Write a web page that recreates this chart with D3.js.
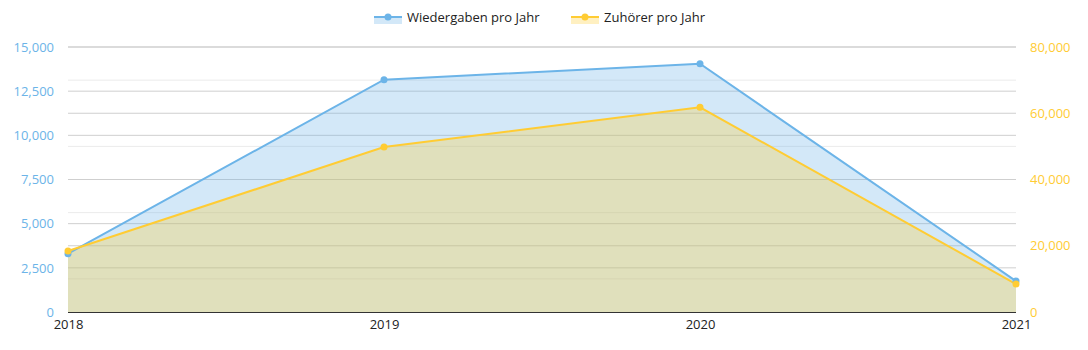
<!DOCTYPE html>
<html><head><meta charset="utf-8">
<script src="https://cdn.jsdelivr.net/npm/d3@7"></script>
<style>body{margin:0;background:#fff;font-family:"Open Sans","DejaVu Sans",sans-serif;}</style>
</head><body><svg id="c" width="1088" height="350"></svg>
<script>
const years = ["2018","2019","2020","2021"];
const plays = [3300, 13150, 14050, 1750];
const listeners = [18400, 49800, 61800, 8450];
const leftTicks = [0,2500,5000,7500,10000,12500,15000];
const rightTicks = [0,20000,40000,60000,80000];
const rightMinor = [10000,30000,50000,70000];
const seriesNames = ["Wiedergaben pro Jahr","Zuhörer pro Jahr"];

const blue="#6cb4e8", yellow="#ffcc33";
const svg=d3.select("#c");
const L=68,R=1016,T=47,B=312;
const x=d3.scalePoint().domain(years).range([L,R]);
const yL=d3.scaleLinear().domain([0,15000]).range([B,T]);
const yR=d3.scaleLinear().domain([0,80000]).range([B,T]);
const fmt=d3.format(",");

// grid
svg.append("g").selectAll("line").data(rightMinor).join("line")
 .attr("x1",L).attr("x2",R).attr("y1",d=>yR(d)).attr("y2",d=>yR(d)).attr("stroke","#ebebeb");
svg.append("g").selectAll("line").data(rightTicks.filter(d=>d>0)).join("line")
 .attr("x1",L).attr("x2",R).attr("y1",d=>yR(d)).attr("y2",d=>yR(d)).attr("stroke","#cfcfcf");
svg.append("g").selectAll("line").data(leftTicks.filter(d=>d>0)).join("line")
 .attr("x1",L).attr("x2",R).attr("y1",d=>yL(d)).attr("y2",d=>yL(d)).attr("stroke","#cfcfcf");

// areas
const aBlue=d3.area().x((d,i)=>x(years[i])).y0(B).y1(d=>yL(d));
const aYel=d3.area().x((d,i)=>x(years[i])).y0(B).y1(d=>yR(d));
svg.append("path").attr("d",aBlue(plays)).attr("fill",blue).attr("fill-opacity",0.3);
svg.append("path").attr("d",aYel(listeners)).attr("fill",yellow).attr("fill-opacity",0.3);
const lBlue=d3.line().x((d,i)=>x(years[i])).y(d=>yL(d));
const lYel=d3.line().x((d,i)=>x(years[i])).y(d=>yR(d));
svg.append("path").attr("d",lBlue(plays)).attr("fill","none").attr("stroke",blue).attr("stroke-width",2);
svg.append("path").attr("d",lYel(listeners)).attr("fill","none").attr("stroke",yellow).attr("stroke-width",2);
svg.append("g").selectAll("circle").data(plays).join("circle")
 .attr("cx",(d,i)=>x(years[i])).attr("cy",d=>yL(d)).attr("r",3.5).attr("fill",blue);
svg.append("g").selectAll("circle").data(listeners).join("circle")
 .attr("cx",(d,i)=>x(years[i])).attr("cy",d=>yR(d)).attr("r",3.5).attr("fill",yellow);

// baseline
svg.append("line").attr("x1",L).attr("x2",R).attr("y1",B+0.5).attr("y2",B+0.5).attr("stroke","#333");

// axes
const axL=svg.append("g").attr("transform",`translate(${L-11},0)`)
 .call(d3.axisLeft(yL).tickValues(leftTicks).tickFormat(fmt).tickSize(0));
axL.select(".domain").remove();
axL.selectAll("text").attr("fill",blue).style("font-size","13px").style("font-family","'Open Sans','DejaVu Sans',sans-serif");
const axR=svg.append("g").attr("transform",`translate(${R+11},0)`)
 .call(d3.axisRight(yR).tickValues(rightTicks).tickFormat(fmt).tickSize(0));
axR.select(".domain").remove();
axR.selectAll("text").attr("fill",yellow).style("font-size","13px").style("font-family","'Open Sans','DejaVu Sans',sans-serif");
const axX=svg.append("g").attr("transform",`translate(0,${B})`)
 .call(d3.axisBottom(x).tickSize(0).tickPadding(8));
axX.select(".domain").remove();
axX.selectAll("text").attr("fill","#222").style("font-size","13px").style("font-family","'Open Sans','DejaVu Sans',sans-serif");

// legend
const leg=[{n:seriesNames[0],c:blue,x:374},{n:seriesNames[1],c:yellow,x:571}];
const lg=svg.append("g").selectAll("g").data(leg).join("g").attr("transform",d=>`translate(${d.x},17)`);
lg.append("rect").attr("x",0).attr("y",0).attr("width",28).attr("height",7).attr("fill",d=>d.c).attr("fill-opacity",0.3);
lg.append("line").attr("x1",0).attr("x2",28).attr("y1",0).attr("y2",0).attr("stroke",d=>d.c).attr("stroke-width",2);
lg.append("circle").attr("cx",14).attr("cy",0).attr("r",3.5).attr("fill",d=>d.c);
lg.append("text").attr("x",33).attr("y",4.5).text(d=>d.n).attr("fill","#222").style("font-size","13px");
</script></body></html>
